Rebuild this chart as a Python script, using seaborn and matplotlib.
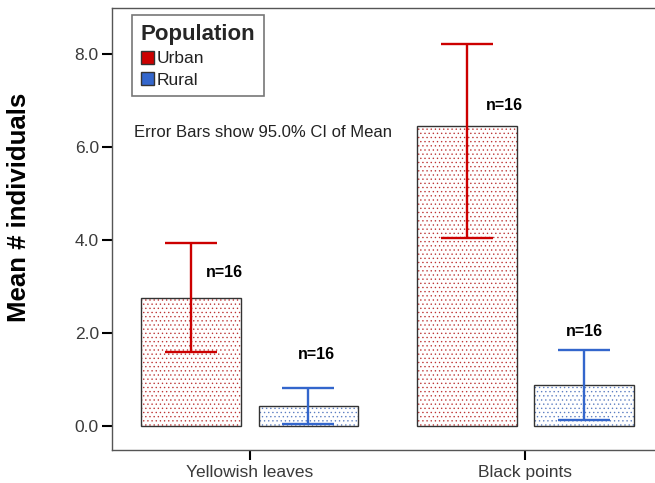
import matplotlib
matplotlib.use("Agg")
import matplotlib.pyplot as plt
from matplotlib.patches import Patch, Rectangle
from matplotlib.colors import to_rgba
import seaborn as sns
import pandas as pd

# ---- data ----
categories = ["Yellowish leaves", "Black points"]
populations = ["Urban", "Rural"]
urban_mean = [2.75, 6.46]
rural_mean = [0.43, 0.88]
urban_ci_low = [1.59, 4.05]
urban_ci_high = [3.94, 8.22]
rural_ci_low = [0.04, 0.13]
rural_ci_high = [0.82, 1.64]
n_labels = ["n=16", "n=16", "n=16", "n=16"]
y_ticks = [0.0, 2.0, 4.0, 6.0, 8.0]

# ---- styling ----
sns.set_theme(style="white")
plt.rcParams["font.family"] = ["Liberation Sans", "DejaVu Sans"]
plt.rcParams["hatch.linewidth"] = 0.5
RED = "#CC0000"
BLUE = "#3366CC"
palette = {"Urban": RED, "Rural": BLUE}

df = pd.DataFrame({
    "category": categories * 2,
    "population": ["Urban"] * 2 + ["Rural"] * 2,
    "mean": urban_mean + rural_mean,
    "lo": urban_ci_low + rural_ci_low,
    "hi": urban_ci_high + rural_ci_high,
})

fig = plt.figure(figsize=(6.55, 4.83), dpi=100)
ax = fig.add_axes([112 / 655, 33 / 483, 543 / 655, 442 / 483])

sns.barplot(data=df, x="category", y="mean", hue="population",
            order=categories, hue_order=populations, palette=palette,
            width=0.85, gap=0.15, errorbar=None, legend=False, ax=ax)

# restyle bars: white with dotted hatch, dark outline; add CI error bars
bars = list(ax.patches)
for patch in bars:
    x, y0 = patch.get_x(), patch.get_y()
    w, h = patch.get_width(), patch.get_height()
    if h == 0:
        continue
    col = to_rgba(patch.get_facecolor(), 0.8)
    patch.set_facecolor("white")
    patch.set_edgecolor(col)
    patch.set_hatch("....")
    patch.set_linewidth(0)
    ax.add_patch(Rectangle((x, y0), w, h, fill=False, edgecolor="#333333",
                           linewidth=1.0, zorder=patch.get_zorder() + 0.1))

# bar order from seaborn: hue level-major
# [Urban-Yellowish, Urban-Black, Rural-Yellowish, Rural-Black]
label_dx = [0.12, 0.138, 0.03, 0.0]
label_dy = [0.55, 0.45, 0.71, 0.39]
for i, patch in enumerate(bars):
    cx = patch.get_x() + patch.get_width() / 2
    row = df.iloc[i]
    color = palette[row["population"]]
    ax.errorbar([cx], [row["mean"]],
                yerr=[[row["mean"] - row["lo"]], [row["hi"] - row["mean"]]],
                fmt="none", ecolor=color, elinewidth=1.7,
                capsize=18.7, capthick=1.7, zorder=5)
    base = row["mean"] if row["population"] == "Urban" else row["hi"]
    ax.text(cx + label_dx[i], base + label_dy[i], n_labels[i],
            fontsize=11.5, fontweight="bold", ha="center", va="center",
            color="black", zorder=6)

ax.set_xlim(-0.5, 1.47)
ax.set_ylim(-0.52, 9.0)
ax.set_yticks(y_ticks)
ax.set_yticklabels([f"{t:.1f}" for t in y_ticks])
ax.tick_params(axis="both", which="both", direction="out", length=7.5,
               width=1.5, color="black", labelcolor="#3a3a3a",
               labelsize=12.5, left=True, bottom=True, pad=2)
ax.tick_params(axis="x", pad=3.5)
ax.set_xlabel("")
ax.set_ylabel("Mean # individuals", fontsize=18.5, fontweight="bold",
              color="black")
ax.yaxis.set_label_coords(-0.150, 0.55)

for s in ["left", "bottom", "top"]:
    ax.spines[s].set_visible(True)
    ax.spines[s].set_color("#555555")
    ax.spines[s].set_linewidth(1.0)
ax.spines["right"].set_visible(False)

ax.text(0.040, 0.719, "Error Bars show 95.0% CI of Mean",
        transform=ax.transAxes, fontsize=12, color="#222222",
        ha="left", va="center")

handles = [Patch(facecolor=palette[p], edgecolor="#333333", linewidth=1)
           for p in populations]
leg = ax.legend(handles, populations, title="Population",
                loc="upper left", bbox_to_anchor=(0.037, 0.984),
                borderaxespad=0, frameon=True, fancybox=False,
                fontsize=12.5, title_fontproperties={"weight": "bold", "size": 16},
                alignment="left", handlelength=0.75, handleheight=0.75,
                handletextpad=0.15, labelspacing=0.35, borderpad=0.5)
leg.get_frame().set_edgecolor("#555555")
leg.get_frame().set_linewidth(1.2)
for t in leg.get_texts():
    t.set_color("#222222")

fig.savefig("out.png", dpi=100)
